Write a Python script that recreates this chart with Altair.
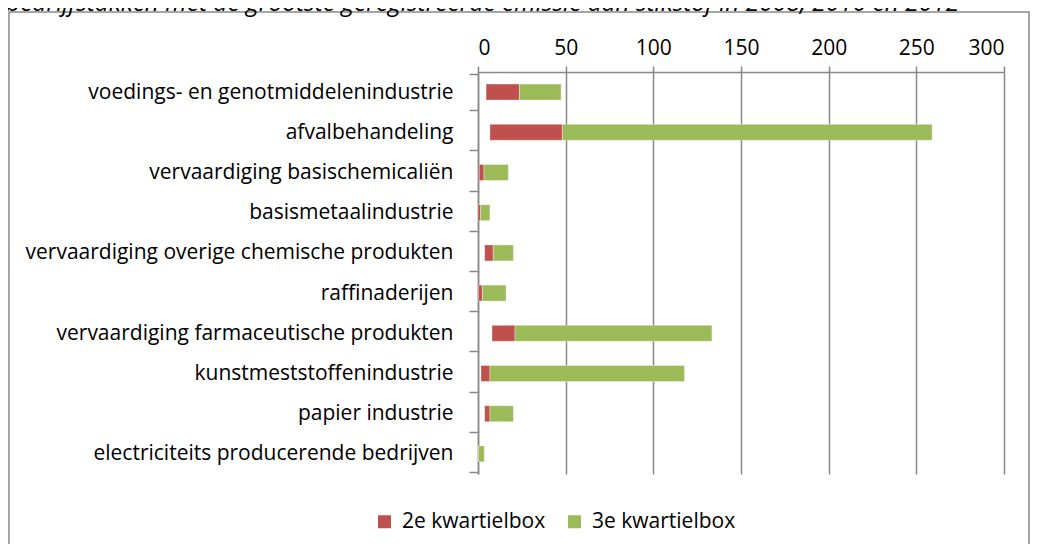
import altair as alt
import pandas as pd

categories = [
    "voedings- en genotmiddelenindustrie",
    "afvalbehandeling",
    "vervaardiging basischemicaliën",
    "basismetaalindustrie",
    "vervaardiging overige chemische produkten",
    "raffinaderijen",
    "vervaardiging farmaceutische produkten",
    "kunstmeststoffenindustrie",
    "papier industrie",
    "electriciteits producerende bedrijven",
]
q1 = [4.6, 6.8, 0.7, 0.0, 3.8, 0.3, 8.0, 1.7, 3.8, 0.0]
median = [23.6, 48.1, 3.4, 1.5, 8.7, 2.5, 21.1, 6.8, 6.8, 0.3]
q3 = [47.4, 259.0, 17.3, 6.8, 20.2, 16.0, 133.4, 117.8, 20.2, 3.6]
series = ["2e kwartielbox", "3e kwartielbox"]
colors = ["#C0504D", "#9BBB59"]
x_ticks = [0, 50, 100, 150, 200, 250, 300]
title_text = "bedrijfstakken met de grootste geregistreerde emissie aan stikstof in 2008, 2010 en 2012"

rows = []
for c, a, m, b in zip(categories, q1, median, q3):
    rows.append({"cat": c, "serie": series[0], "start": a, "end": m})
    rows.append({"cat": c, "serie": series[1], "start": m, "end": b})
df = pd.DataFrame(rows)

GRID = "#888888"
FONT = "Open Sans"
FS = 21

bars = alt.Chart(df).mark_bar(size=16, stroke="white", strokeOpacity=0.35, strokeWidth=1).encode(
    x=alt.X(
        "start:Q",
        scale=alt.Scale(domain=[0, 300], nice=False),
        axis=alt.Axis(
            orient="top", values=x_ticks, title=None, grid=True,
            gridColor=GRID, gridWidth=1.5, domainColor=GRID, domainWidth=1.5,
            tickColor=GRID, tickWidth=1.5, tickSize=6, labelFontSize=FS,
            labelColor="black", labelPadding=8, labelFont=FONT,
        ),
    ),
    x2="end:Q",
    y=alt.Y(
        "cat:N", sort=categories, title=None,
        axis=alt.Axis(
            tickBand="extent", tickSize=9, tickColor=GRID, tickWidth=1.5,
            domainColor=GRID, domainWidth=1.5, labelFontSize=FS,
            labelColor="black", labelPadding=16, labelLimit=600, labelFont=FONT,
            grid=False,
        ),
    ),
    color=alt.Color(
        "serie:N",
        scale=alt.Scale(domain=series, range=colors),
        legend=alt.Legend(
            orient="none", legendX=-104, legendY=439, direction="horizontal",
            title=None, symbolType="square", symbolSize=169,
            symbolStrokeWidth=0, labelFontSize=FS, labelFont=FONT,
            labelColor="black", labelOffset=7, columnPadding=18,
        ),
    ),
)

frame = alt.Chart(pd.DataFrame({"f": [0]})).mark_rect(
    fillOpacity=0, stroke=GRID, strokeWidth=1.5
).encode(
    x=alt.value(-469), x2=alt.value(551), y=alt.value(-60), y2=alt.value(520)
)

chart = alt.layer(frame, bars).properties(
    width=526,
    height=402,
    padding={"left": 470, "top": 64, "right": 26, "bottom": 70},
    autosize=alt.AutoSizeParams(type="none"),
    title=alt.TitleParams(
        text=title_text, anchor="start", frame="group", orient="top",
        dx=-472, dy=9, fontSize=24.5, fontStyle="italic", fontWeight="normal",
        font=FONT, color="black",
    ),
).configure_view(stroke=None)

chart.save("out.html", embed_options={"renderer": "svg", "actions": False})
